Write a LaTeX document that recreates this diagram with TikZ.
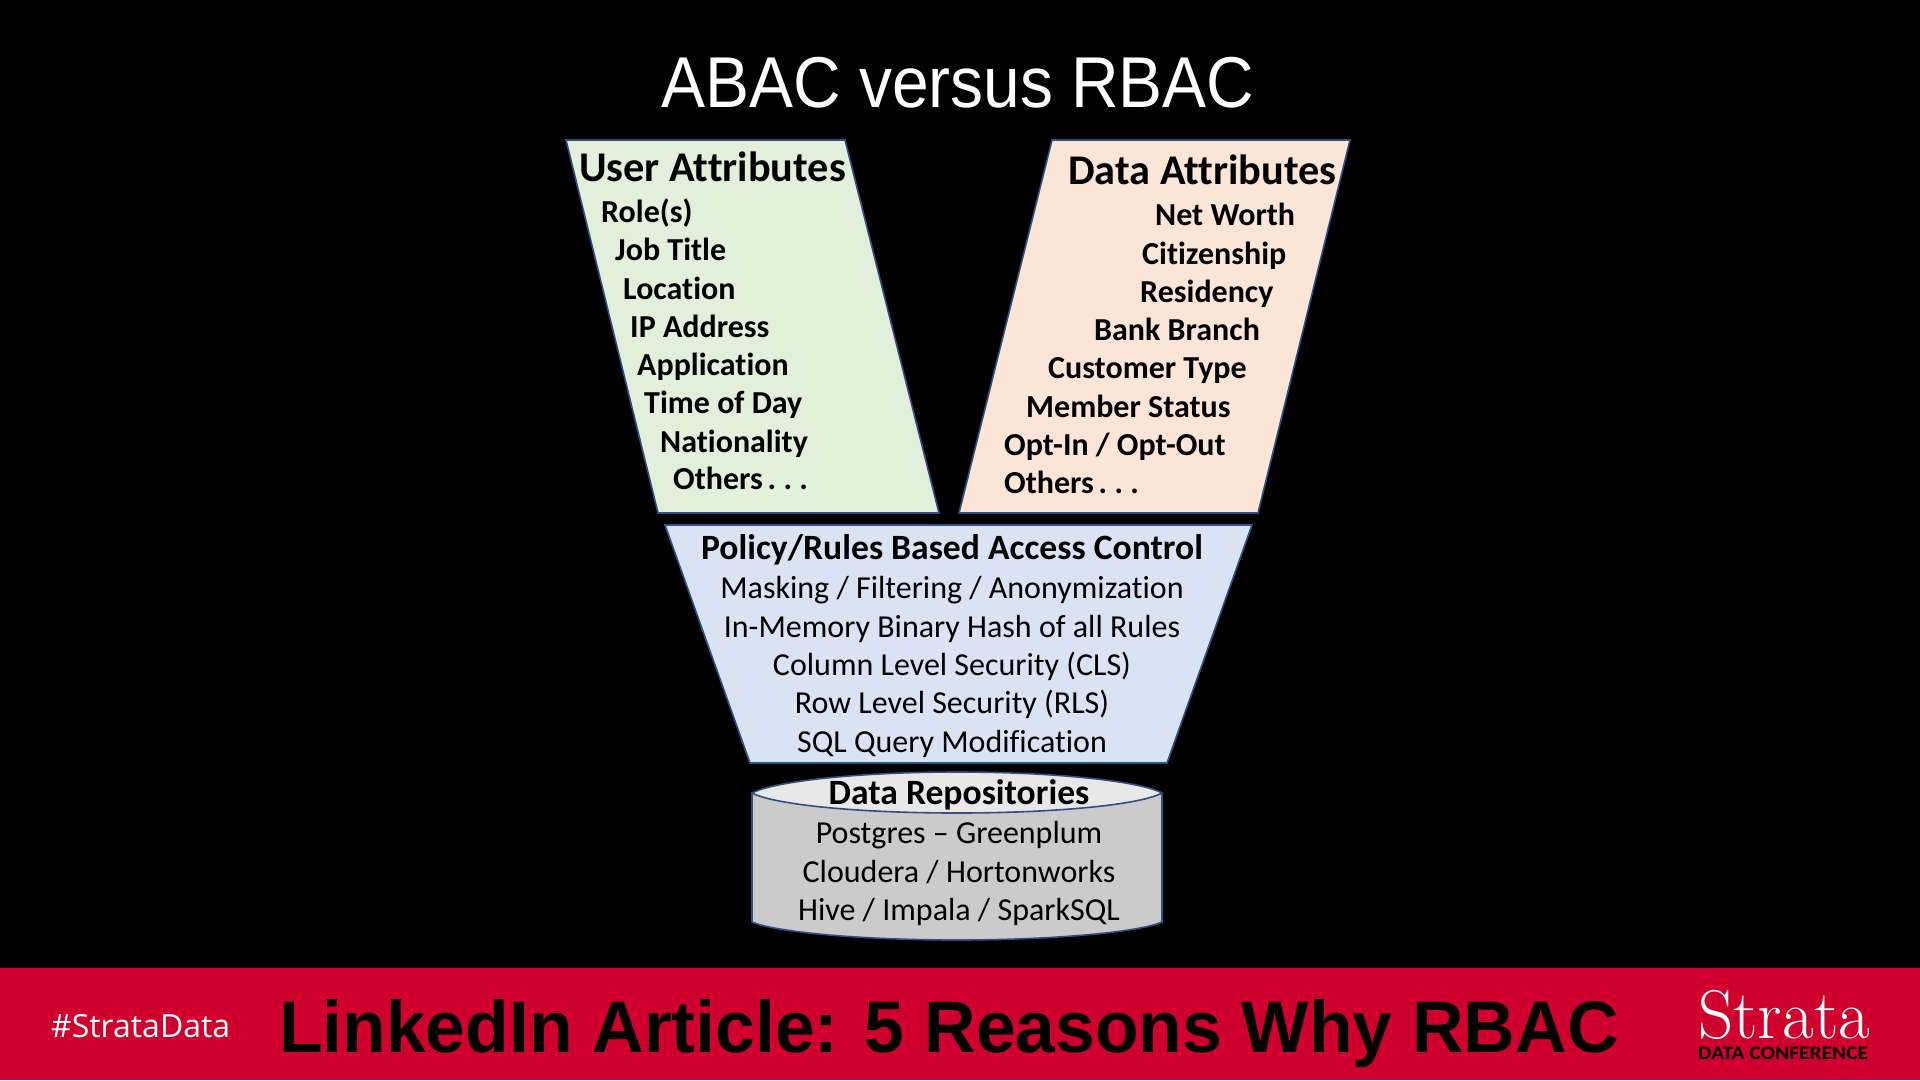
\documentclass[tikz,border=0pt]{standalone}
\usepackage{fontspec}
\setmainfont[Ligatures=NoCommon]{Carlito}
\newfontfamily\titlefont[FakeStretch=0.915]{Liberation Sans}
\newfontfamily\articlefont[FakeStretch=0.978]{Liberation Sans}
\newfontfamily\hashfont{Open Sans}
\newfontfamily\logofont{Latin Modern Roman}
\newfontfamily\logosubfont[FakeStretch=1.13]{Carlito}
\definecolor{bandred}{HTML}{CF002E}
\definecolor{edgeblue}{HTML}{2F5080}
\definecolor{usergreen}{HTML}{E2EFDA}
\definecolor{datapeach}{HTML}{FBE5D6}
\definecolor{policyblue}{HTML}{DAE3F3}
\definecolor{repogray}{HTML}{CBCBCB}
\definecolor{repotop}{HTML}{E8E8E8}
\tikzset{
  panel/.style={draw=edgeblue, line width=1.6pt, line join=miter},
  head/.style={inner sep=0pt, yshift=-1pt, anchor=base west, font=\fontsize{42.3}{42}\selectfont\bfseries},
  headc/.style={inner sep=0pt, yshift=-1pt, anchor=base, font=\fontsize{35.6}{36}\selectfont\bfseries},
  attr/.style={inner sep=0pt, yshift=-1pt, anchor=base west, font=\fontsize{32}{32}\selectfont\bfseries},
  item/.style={inner sep=0pt, yshift=-1pt, anchor=base, font=\fontsize{32}{32}\selectfont},
}
\begin{document}
\begin{tikzpicture}[x=1pt, y=-1pt]
  \useasboundingbox (0, 0) rectangle (1920, 1080);
  \fill[black] (0, 0) rectangle (1920, 1080);
  \fill[bandred] (0, 968) rectangle (1920, 1080);

  \node[anchor=base, inner sep=0pt, text=white, font=\fontsize{72}{72}\selectfont\titlefont] (title) at (958, 107) {ABAC versus RBAC};

  \draw[panel, fill=usergreen] (566, 140) -- (845, 140) -- (939, 513) -- (658, 513) -- cycle;
  \draw[panel, fill=datapeach] (1052, 140) -- (1350, 140) -- (1258, 513) -- (959, 513) -- cycle;
  \draw[panel, fill=policyblue] (665, 525) -- (1252, 525) -- (1167, 763) -- (750, 763) -- cycle;

  % repository drum
  \draw[panel, fill=repogray] (752, 793) -- (752, 922) .. controls (775, 932) and (860, 940) .. (957, 940) .. controls (1054, 940) and (1140, 932) .. (1162, 922) -- (1162, 793);
  \draw[panel, fill=repotop] (752, 793) .. controls (775, 781) and (860, 772) .. (957, 772) .. controls (1054, 772) and (1140, 781) .. (1162, 793) .. controls (1140, 805) and (1054, 813) .. (957, 813) .. controls (860, 813) and (775, 805) .. (752, 793) -- cycle;

  \node[head] (userhead) at (579, 180) {User Attributes};
  \node[attr] (role) at (601, 221) {Role(s)};
  \node[attr] (job) at (615, 259) {Job Title};
  \node[attr] (location) at (623, 298) {Location};
  \node[attr] (ip) at (630, 336) {IP Address};
  \node[attr] (application) at (637, 374) {Application};
  \node[attr] (time) at (644, 412) {Time of Day};
  \node[attr] (nationality) at (660, 451) {Nationality};
  \node[attr] (othersuser) at (673, 488) {\spaceskip=.15em Others . . .};

  \node[head] (datahead) at (1068, 183) {Data Attributes};
  \node[attr] (worth) at (1155, 224) {Net Worth};
  \node[attr] (citizenship) at (1142, 263) {Citizenship};
  \node[attr] (residency) at (1140, 301) {Residency};
  \node[attr] (bank) at (1094, 339) {Bank Branch};
  \node[attr] (customer) at (1048, 377) {Customer Type};
  \node[attr] (member) at (1026, 416) {Member Status};
  \node[attr] (opt) at (1004, 454) {Opt-In / Opt-Out};
  \node[attr] (othersdata) at (1004, 492) {\spaceskip=.15em Others . . .};

  \node[headc] (policyhead) at (952, 558) {Policy/Rules Based Access Control};
  \node[item] (masking) at (952, 597) {Masking / Filtering / Anonymization};
  \node[item] (memory) at (952, 636) {In-Memory Binary Hash of all Rules};
  \node[item] (cls) at (952, 674) {Column Level Security (CLS)};
  \node[item] (rls) at (952, 712) {Row Level Security (RLS)};
  \node[item] (sql) at (952, 751) {SQL Query Modification};

  \node[headc] (repohead) at (959, 803) {Data Repositories};
  \node[item] (postgres) at (959, 842) {Postgres -- Greenplum};
  \node[item] (cloudera) at (959, 881) {Cloudera / Hortonworks};
  \node[item] (hive) at (959, 919) {Hive / Impala / SparkSQL};

  \node[anchor=base west, inner sep=0pt, text=white, font=\fontsize{32}{32}\selectfont\hashfont] (hash) at (51, 1037) {\#StrataData};
  \node[anchor=base west, inner sep=0pt, text=black, font=\fontsize{73}{73}\selectfont\articlefont\bfseries] (article) at (279, 1052) {LinkedIn Article: 5 Reasons Why RBAC};
  \node[anchor=base west, inner sep=0pt, text=white, font=\fontsize{69}{69}\selectfont\logofont] (strata) at (1698, 1038) {Strata};
  \node[anchor=base west, inner sep=0pt, text=black, font=\fontsize{19}{19}\selectfont\logosubfont\bfseries] (conference) at (1698, 1059) {DATA CONFERENCE};
\end{tikzpicture}
\end{document}
